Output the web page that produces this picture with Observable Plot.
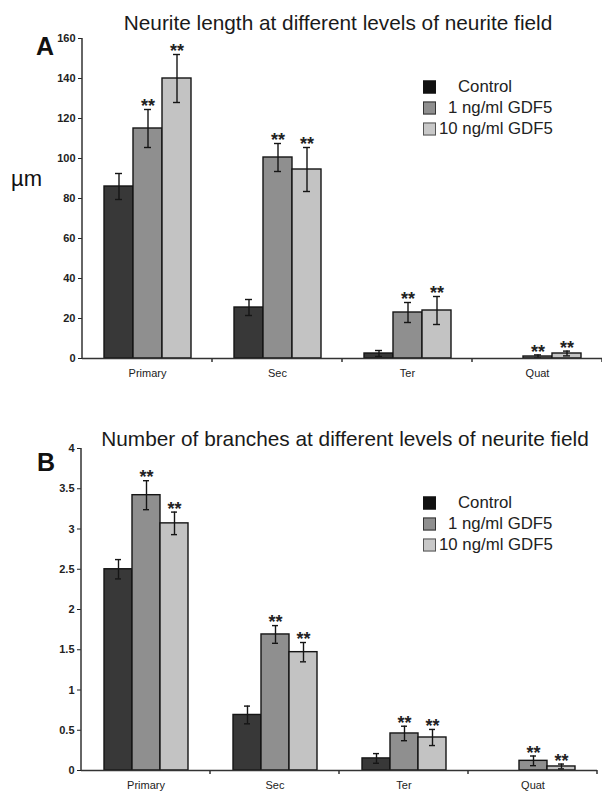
<!DOCTYPE html>
<html><head><meta charset="utf-8">
<script src="https://cdn.jsdelivr.net/npm/d3@7"></script>
<script src="https://cdn.jsdelivr.net/npm/@observablehq/plot@0.6"></script>
<style>
body{margin:0;background:#fff;}
#wrap{position:relative;width:602px;height:793px;overflow:hidden;font-family:"Liberation Sans",Arial,sans-serif;color:#111;}
.abs{position:absolute;white-space:nowrap;line-height:1;transform:translateY(-50%);}
.title{font-size:20.8px;transform:translate(-50%,-50%);color:#1a1a1a;}
.letter{font-size:25px;font-weight:bold;}
.unit{font-size:22px;}
.leg{font-size:16.8px;color:#222;}
.sw{position:absolute;width:13px;height:13px;box-sizing:border-box;transform:translateY(-50%);}
</style></head>
<body><div id="wrap"></div>
<script>
const categories = ["Primary", "Sec", "Ter", "Quat"];
const series = ["Control", "1 ng/ml GDF5", "10 ng/ml GDF5"];
const colors = ["#383838", "#8f8f8f", "#c3c3c3"];
const significant = [false, true, true];

// Panel A: neurite length (µm)
const lengthControl = [86, 25.5, 2.5, 0];
const length1ng = [115, 100.5, 23, 1];
const length10ng = [140, 94.5, 24, 2.5];
const lengthErrControl = [6.5, 4, 1.5, 0];
const lengthErr1ng = [9.5, 7, 5, 0.8];
const lengthErr10ng = [12, 11, 7, 1.2];
const lengthTicks = [0, 20, 40, 60, 80, 100, 120, 140, 160];

// Panel B: number of branches
const branchControl = [2.5, 0.69, 0.15, 0];
const branch1ng = [3.42, 1.69, 0.46, 0.12];
const branch10ng = [3.07, 1.47, 0.41, 0.05];
const branchErrControl = [0.12, 0.11, 0.06, 0];
const branchErr1ng = [0.18, 0.11, 0.09, 0.06];
const branchErr10ng = [0.14, 0.12, 0.10, 0.03];
const branchTicks = [0, 0.5, 1, 1.5, 2, 2.5, 3, 3.5, 4];

const wrap = document.getElementById("wrap");

function panel(o) {
  const rows = [];
  categories.forEach((c, i) => series.forEach((s, j) => rows.push({
    cat: c, series: s, value: o.values[j][i], err: o.errs[j][i], sig: significant[j]
  })));
  const withErr = rows.filter(d => d.err > 0);
  const chart = Plot.plot({
    width: 602, height: o.height,
    marginTop: o.marginTop, marginBottom: o.marginBottom,
    marginLeft: o.marginLeft, marginRight: o.marginRight,
    style: {fontFamily: "Liberation Sans, Arial, sans-serif", fontSize: "11px", color: "#222", background: "transparent", overflow: "visible"},
    fx: {domain: categories, padding: 0, label: null, axis: "bottom", tickSize: 0, tickPadding: 11},
    x: {domain: series, paddingInner: 0, paddingOuter: 0.74, axis: null},
    y: {domain: o.domain, ticks: o.ticks, tickFormat: d => String(d), tickSize: 4, tickPadding: 3, label: null, axis: "left"},
    color: {domain: series, range: colors},
    marks: [
      Plot.barY(rows, {fx: "cat", x: "series", y: "value", fill: "series", stroke: "#151515", strokeWidth: 1.4}),
      Plot.ruleX(withErr, {fx: "cat", x: "series", y1: d => d.value - d.err, y2: d => d.value + d.err, stroke: "#151515", strokeWidth: 1.4}),
      Plot.tickY(withErr, {fx: "cat", x: "series", y: d => d.value - d.err, stroke: "#151515", strokeWidth: 1.4, insetLeft: 11, insetRight: 11}),
      Plot.tickY(withErr, {fx: "cat", x: "series", y: d => d.value + d.err, stroke: "#151515", strokeWidth: 1.4, insetLeft: 11, insetRight: 11}),
      Plot.text(rows.filter(d => d.sig), {fx: "cat", x: "series", y: d => d.value + d.err, text: () => "**", fontSize: 18, fontWeight: "bold", fill: "#222", dy: -3}),
      Plot.ruleY([0], {stroke: "#333", strokeWidth: 1.5})
    ]
  });
  const fx = chart.scale("fx"), y = chart.scale("y");
  const svg = d3.select(chart);
  svg.selectAll('[aria-label="y-axis tick label"] text').attr("font-weight", "bold");
  const g = svg.append("g").attr("stroke", "#333").attr("stroke-width", 1.5);
  const x0 = fx.apply(categories[0]);
  g.append("line").attr("x1", x0).attr("x2", x0).attr("y1", y.apply(o.domain[1])).attr("y2", y.apply(0));
  const bx = categories.slice(1).map(c => fx.apply(c));
  bx.push(fx.apply(categories[categories.length - 1]) + fx.bandwidth);
  bx.forEach(xx => g.append("line").attr("x1", xx).attr("x2", xx).attr("y1", y.apply(0)).attr("y2", y.apply(0) + 4));
  chart.style.position = "absolute";
  chart.style.left = "0px";
  chart.style.top = o.top + "px";
  wrap.appendChild(chart);
}

panel({values: [lengthControl, length1ng, length10ng], errs: [lengthErrControl, lengthErr1ng, lengthErr10ng],
  ticks: lengthTicks, domain: [0, 160], top: 0, height: 392, marginTop: 38, marginBottom: 34, marginLeft: 82, marginRight: 0});
panel({values: [branchControl, branch1ng, branch10ng], errs: [branchErrControl, branchErr1ng, branchErr10ng],
  ticks: branchTicks, domain: [0, 4], top: 395, height: 398, marginTop: 53, marginBottom: 23, marginLeft: 80, marginRight: 5});

function addText(cls, txt, left, top) {
  const d = document.createElement("div");
  d.className = "abs " + cls; d.textContent = txt;
  d.style.left = left + "px"; d.style.top = top + "px";
  wrap.appendChild(d);
}
addText("title", "Neurite length at different levels of neurite field", 338, 23);
addText("title", "Number of branches at different levels of neurite field", 345, 439);
addText("letter", "A", 36, 46);
addText("letter", "B", 37, 462);
addText("unit", "µm", 11, 179);

const swatchStyles = [
  {bg: "#111", border: "1px solid #111"},
  {bg: "#8f8f8f", border: "1px solid #333"},
  {bg: "#c8c8c8", border: "1px solid #555"}
];
const legendTextX = [458, 448, 439];
function legend(rowsY) {
  series.forEach((s, j) => {
    const sw = document.createElement("div");
    sw.className = "sw";
    sw.style.left = "423px"; sw.style.top = rowsY[j] + "px";
    sw.style.background = swatchStyles[j].bg; sw.style.border = swatchStyles[j].border;
    wrap.appendChild(sw);
    addText("leg", s, legendTextX[j], rowsY[j]);
  });
}
legend([87, 108, 129]);
legend([503, 524, 545]);
</script>
</body></html>
